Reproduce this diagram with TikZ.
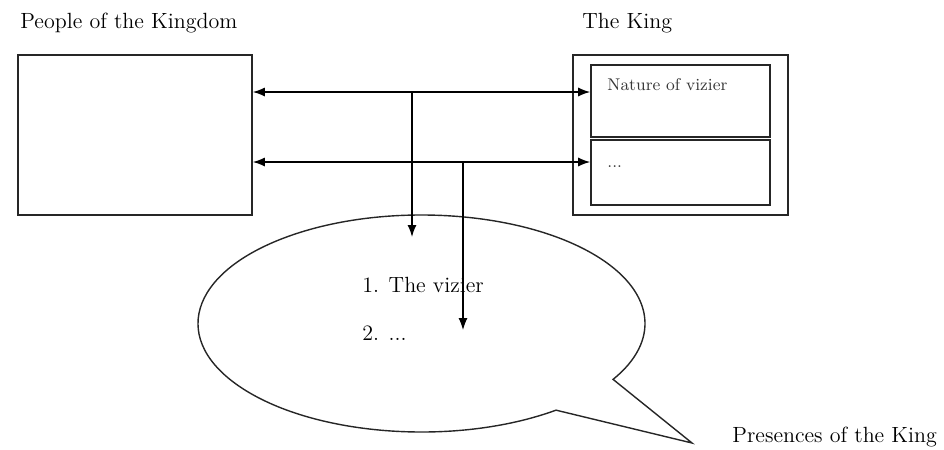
\documentclass[tikz,border=0pt]{standalone}
\usepackage{tikz}
\usetikzlibrary{arrows.meta}
\definecolor{vienhop}{gray}{0.15}
\definecolor{chuxam}{gray}{0.22}

\begin{document}
\begin{tikzpicture}[x=0.5pt,y=-0.5pt,
		hop/.style={draw=vienhop, line width=0.8pt, inner sep=0pt},
		muiten/.style={line width=0.7pt, -{Latex[length=6pt,width=4.5pt]}},
		muitenhai/.style={line width=0.7pt, {Latex[length=6pt,width=4.5pt]}-{Latex[length=6pt,width=4.5pt]}},
		chu/.style={font=\fontsize{11}{13}\selectfont, inner sep=0pt, anchor=base west},
		chunho/.style={font=\fontsize{8.5}{10}\selectfont, text=chuxam, inner sep=0pt, anchor=base west}]
	\useasboundingbox (0,0) rectangle (944,450);
	\node[chu] (tdan) at (20,28) {People of the Kingdom};
	\node[chu] (tvua) at (582,28) {The King};
	\node[chu] (thien) at (732,442) {Presences of the King};
	\node[hop, minimum width=117pt, minimum height=80pt] (dan) at (135,135) {};
	\node[hop, minimum width=107.5pt, minimum height=80pt] (vua) at (680.5,135) {};
	\node[hop, minimum width=89.5pt, minimum height=36pt] (tinh) at (680.5,101) {};
	\node[hop, minimum width=89.5pt, minimum height=32.5pt] (khac) at (680.5,172.5) {};
	\node[chunho] (ttinh) at (607,90) {Nature of vizier};
	\node[chunho] (tkhac) at (607,167) {...};
	\coordinate (h1) at (0,92);
	\coordinate (h2) at (0,162);
	\coordinate (n1) at (412,92);
	\coordinate (n2) at (463,162);
	\coordinate (c1) at (412,237);
	\coordinate (c2) at (463,330);
	\coordinate (tam) at (421.5,323.5);
	\coordinate (mui) at (692,443);
	\draw[line width=0.7pt, vienhop] (tam) ++(53:223.5 and 108.5) arc[start angle=53, end angle=391, x radius=223.5, y radius=108.5] -- (mui) -- cycle;
	\draw[muitenhai] (dan.east |- h1) -- (tinh.west |- h1);
	\draw[muitenhai] (dan.east |- h2) -- (khac.west |- h2);
	\draw[muiten] (n1) -- (c1);
	\draw[muiten, line width=0.55pt] (n2) -- (c2);
	\node[chu] (y1) at (362,292) {1. The vizier};
	\node[chu] (y2) at (362,340) {2. ...};
\end{tikzpicture}
\end{document}
